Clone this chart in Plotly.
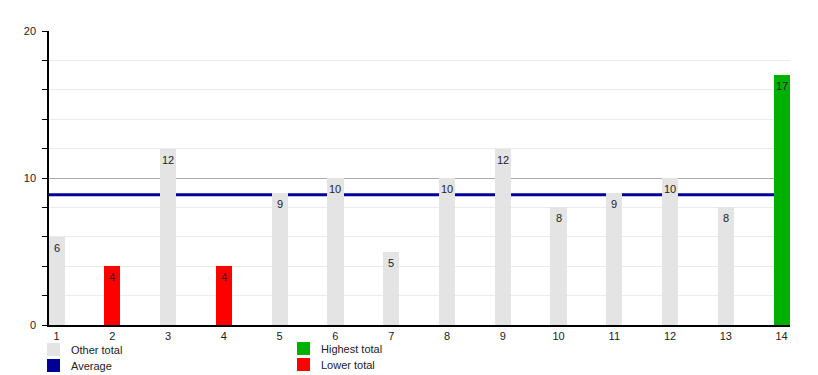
import plotly.graph_objects as go

categories = [1, 2, 3, 4, 5, 6, 7, 8, 9, 10, 11, 12, 13, 14]
totals = [6, 4, 12, 4, 9, 10, 5, 10, 12, 8, 9, 10, 8, 17]
legend_labels = ["Other total", "Average", "Highest total", "Lower total"]

C_OTHER = "#e4e4e4"
C_AVG = "#000099"
C_HIGH = "#00b000"
C_LOW = "#ff0000"

avg = sum(totals) / len(totals)
mx = max(totals)
colors = []
for v in totals:
    if v == mx:
        colors.append(C_HIGH)
    elif v < avg * 0.5:
        colors.append(C_LOW)
    else:
        colors.append(C_OTHER)

OFF = 8  # page body margin
W, H = 818 - OFF, 375 - OFF
L, R, T, B = 49 - OFF, 790 - OFF, 31 - OFF, 325 - OFF
XR = [0.865, 14.15]
YR = [0, 20]


def px(x):
    return (x - OFF - L) / (R - L)


def py(y):
    return (B - (y - OFF)) / (B - T)


fig = go.Figure()
# average line on the base subplot (drawn beneath the bars' overlay subplot)
fig.add_trace(go.Scatter(x=XR, y=[avg, avg], mode="lines", line=dict(color=C_AVG, width=3),
                         showlegend=False, hoverinfo="skip", xaxis="x", yaxis="y"))
fig.add_trace(go.Bar(x=categories, y=totals, marker=dict(color=colors, line=dict(width=0)),
                     width=0.29, showlegend=False, hoverinfo="x+y", xaxis="x", yaxis="y2"))

annotations = []
for c, v in zip(categories, totals):
    annotations.append(dict(x=c, y=v, xref="x", yref="y", text=str(v), showarrow=False,
                            yanchor="middle", xanchor="center", yshift=-11,
                            font=dict(size=11, color="#222222")))

shapes = []
leg = [
    (legend_labels[0], C_OTHER, 47, 343),
    (legend_labels[1], C_AVG, 47, 359),
    (legend_labels[2], C_HIGH, 297, 342),
    (legend_labels[3], C_LOW, 297, 358),
]
for lab, col, x0, y0 in leg:
    shapes.append(dict(type="rect", xref="paper", yref="paper",
                       x0=px(x0), x1=px(x0 + 13), y0=py(y0 + 13), y1=py(y0),
                       fillcolor=col, line=dict(width=0)))
    annotations.append(dict(xref="paper", yref="paper", x=px(x0 + 22), y=py(y0 + 6.5),
                            text=lab, showarrow=False, xanchor="left", yanchor="middle",
                            font=dict(size=11, color="#222222")))

fig.update_layout(
    width=W, height=H,
    margin=dict(l=L, r=W - R, t=T, b=H - B, pad=0),
    paper_bgcolor="white", plot_bgcolor="white",
    font=dict(family="Liberation Sans, Arial, sans-serif", size=11, color="#222222"),
    bargap=0,
    xaxis=dict(range=XR, tickmode="array", tickvals=categories,
               ticktext=[str(c) for c in categories], showgrid=False, zeroline=False,
               showline=True, linecolor="black", linewidth=1.5, ticks="", ticklen=0,
               tickfont=dict(size=11, color="#222222")),
    yaxis=dict(range=YR, tickmode="array", tickvals=[0, 10, 20], showgrid=True,
               gridcolor="#aaaaaa", gridwidth=1, zeroline=False, showline=True,
               linecolor="black", linewidth=1.5, ticks="outside", ticklen=5, tickcolor="black",
               tickfont=dict(size=11, color="#222222"), ticklabelstandoff=4,
               minor=dict(tickmode="array", tickvals=[2, 4, 6, 8, 12, 14, 16, 18],
                          ticks="outside", ticklen=5, tickcolor="black",
                          showgrid=True, gridcolor="#ebebeb", gridwidth=1)),
    yaxis2=dict(range=YR, overlaying="y", side="left", visible=False, showgrid=False,
                zeroline=False),
    shapes=shapes,
    annotations=annotations,
    showlegend=False,
)

fig.write_html("out.html")
